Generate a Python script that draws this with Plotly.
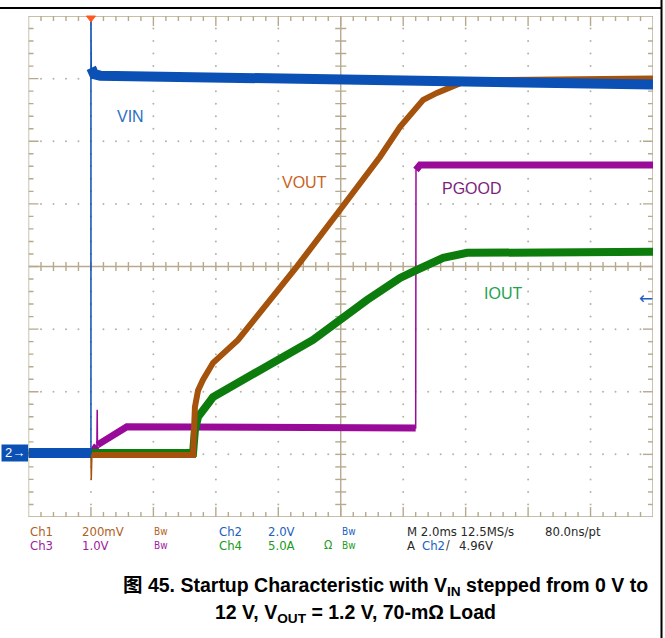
import plotly.graph_objects as go

W, H = 665, 638
# graticule box in pixels
GL, GR, GT, GB = 28.5, 653.0, 16.0, 517.0
NDX, NDY = 10, 8
T_PER_DIV = 2.0          # ms/div
T0 = -2.0                # ms at left edge of screen
GND_DIV = 1.022          # ground marker level (divisions above bottom)
PXX = (GR - GL) / NDX    # px per horizontal division
PXY = (GB - GT) / NDY    # px per vertical division

# ---------------- data ----------------
# Ch2 VIN, 2.0 V/div
t_vin = [-2.0, 0.0, 0.0, 0.01, 0.1, 0.3, 3.5, 8.3, 10.9, 13.1, 18.0]
vin   = [0.0, 0.0, 13.99, 12.3, 12.1, 12.05, 11.99, 11.93, 11.84, 11.80, 11.77]
# Ch1 VOUT, 200 mV/div
t_vout = [-2.0, 0.0, 0.01, 0.03, 3.27, 3.33, 3.43, 3.59, 3.91, 4.71, 5.73, 6.60,
          7.98, 9.26, 9.90, 10.64, 11.08, 11.40, 12.04, 18.0]
vout   = [-0.006, -0.006, -0.086, -0.006, -0.006, 0.147, 0.20, 0.234, 0.288, 0.361,
          0.489, 0.596, 0.777, 0.946, 1.042, 1.128, 1.150, 1.163, 1.19, 1.196]
# Ch3 PGOOD, 1.0 V/div
t_pg = [-2.0, 0.06, 0.13, 0.19, 0.20, 0.21, 1.15, 10.40, 10.41, 10.54, 18.0]
pg   = [0.0, 0.0, 0.08, 0.12, 0.69, 0.13, 0.42, 0.40, 4.52, 4.60, 4.60]
# Ch4 IOUT, 5.0 A/div
t_iout = [-2.0, 3.27, 3.33, 3.43, 3.91, 5.0, 6.05, 7.11, 8.84, 9.90, 10.44,
          11.28, 12.05, 18.0]
iout   = [0.0, 0.0, 1.84, 2.88, 4.47, 6.07, 7.43, 9.03, 12.22, 13.98, 14.62,
          15.58, 15.98, 16.06]

SCALE = {"VIN": 2.0, "VOUT": 0.2, "PGOOD": 1.0, "IOUT": 5.0}
C_VIN, C_VOUT, C_PG, C_IOUT = "#0b50b4", "#a4520c", "#990a99", "#0c7c0c"
GRAT = "#b5aa8e"
DOT = "#b4b4aa"


def thick_split(t, v, scale):
    xs, ys = [], []
    for i in range(len(t)):
        if i > 0:
            dx = abs(t[i] - t[i - 1]) / T_PER_DIV
            dy = abs(v[i] - v[i - 1]) / scale
            if dx < 0.02 and dy > 0.3:
                xs.append(None)
                ys.append(None)
        xs.append(t[i])
        ys.append(v[i])
    return xs, ys


fig = go.Figure()

# ---------------- graticule ----------------
gx, gy = [], []


def seg(x0, y0, x1, y1):
    gx.extend([x0, x1, None])
    gy.extend([y0, y1, None])


TL, TR = T0, T0 + NDX * T_PER_DIV
seg(TL, 0, TR, 0); seg(TL, NDY, TR, NDY); seg(TL, 0, TL, NDY); seg(TR, 0, TR, NDY)
TC = T0 + NDX / 2 * T_PER_DIV
seg(TL, NDY / 2, TR, NDY / 2); seg(TC, 0, TC, NDY)
ms_per_px = T_PER_DIV / PXX
div_per_px = 1.0 / PXY
for i in range(1, NDX * 5):
    x = T0 + i * 0.2 * T_PER_DIV
    ln = (10 if i % 5 == 0 else 5) * div_per_px
    seg(x, NDY, x, NDY - ln)
    seg(x, 0, x, ln)
    if i != NDX * 5 // 2:
        seg(x, NDY / 2 - 4.5 * div_per_px, x, NDY / 2 + 4.5 * div_per_px)
for j in range(1, NDY * 5):
    y = j * 0.2
    ln = (10 if j % 5 == 0 else 5) * ms_per_px
    seg(TL, y, TL + ln, y)
    seg(TR, y, TR - ln, y)
    if j != NDY * 5 // 2:
        seg(TC - 5.5 * ms_per_px, y, TC + 5.5 * ms_per_px, y)

dx_, dy_ = [], []
for i in range(1, NDX):
    if i == NDX // 2:
        continue
    x = T0 + i * T_PER_DIV
    for j in range(1, NDY * 5):
        dx_.append(x); dy_.append(j * 0.2)
for j in range(1, NDY):
    if j == NDY // 2:
        continue
    for i in range(1, NDX * 5):
        if i % 5 == 0:
            continue
        dx_.append(T0 + i * 0.2 * T_PER_DIV); dy_.append(j)

fig.add_trace(go.Scatter(x=dx_, y=dy_, mode="markers", xaxis="x", yaxis="y",
                         marker=dict(size=2, color=DOT), hoverinfo="skip", showlegend=False))
fig.add_trace(go.Scatter(x=gx, y=gy, mode="lines", xaxis="x", yaxis="y",
                         line=dict(color=GRAT, width=1.4), hoverinfo="skip", showlegend=False))

# ---------------- channel traces ----------------
chans = [
    ("PGOOD", t_pg, pg, C_PG, 7, "y2"),
    ("IOUT", t_iout, iout, C_IOUT, 8, "y3"),
    ("VOUT", t_vout, vout, C_VOUT, 6, "y4"),
    ("VIN", t_vin, vin, C_VIN, 10, "y5"),
]
for name, t, v, col, w, ya in chans:
    xs, ys = thick_split(t, v, SCALE[name])
    fig.add_trace(go.Scatter(x=t, y=v, mode="lines", xaxis="x", yaxis=ya,
                             line=dict(color=col, width=1.5), hoverinfo="skip", showlegend=False))
    fig.add_trace(go.Scatter(x=xs, y=ys, mode="lines", xaxis="x", yaxis=ya, connectgaps=False,
                             line=dict(color=col, width=w), hoverinfo="skip", showlegend=False))


def yr(scale):
    return [-GND_DIV * scale, (NDY - GND_DIV) * scale]


ydom = [1 - GB / H, 1 - GT / H]
hid = dict(visible=False, showgrid=False, zeroline=False, fixedrange=True)
fig.update_layout(
    width=W, height=H,
    margin=dict(l=0, r=0, t=0, b=0, autoexpand=False),
    paper_bgcolor="white", plot_bgcolor="white",
    xaxis=dict(range=[TL, TR], domain=[GL / W, GR / W], **hid),
    yaxis=dict(range=[0, NDY], domain=ydom, **hid),
    yaxis2=dict(range=yr(SCALE["PGOOD"]), overlaying="y", **hid),
    yaxis3=dict(range=yr(SCALE["IOUT"]), overlaying="y", **hid),
    yaxis4=dict(range=yr(SCALE["VOUT"]), overlaying="y", **hid),
    yaxis5=dict(range=yr(SCALE["VIN"]), overlaying="y", **hid),
    showlegend=False,
)


def px(x):
    return x / W


def py(y):
    return 1 - y / H


shapes = []
shapes.append(dict(type="line", xref="paper", yref="paper", x0=0, x1=px(662), y0=py(8), y1=py(8),
                   line=dict(color="black", width=2)))
shapes.append(dict(type="line", xref="paper", yref="paper", x0=px(661.5), x1=px(661.5), y0=0, y1=1,
                   line=dict(color="black", width=2)))
xt = GL + (0 - T0) / T_PER_DIV * PXX
shapes.append(dict(type="path", xref="paper", yref="paper",
                   path=f"M {px(xt-4.5)},{py(GT)} L {px(xt+4.5)},{py(GT)} L {px(xt)},{py(GT+6)} Z",
                   fillcolor="#ff5a1e", line=dict(color="#ff5a1e", width=1)))
yg = GB - GND_DIV * PXY
shapes.append(dict(type="rect", xref="paper", yref="paper", x0=px(1.5), x1=px(28), y0=py(yg - 8.5),
                   y1=py(yg + 8.5), fillcolor=C_VIN, line=dict(width=0)))
fig.update_layout(shapes=shapes)


def note(txt, x, y, fam, size, col, xa="center"):
    return dict(text=txt, x=px(x), y=py(y), xanchor=xa, yanchor="middle", showarrow=False,
                xref="paper", yref="paper", font=dict(family=fam, size=size, color=col))


ann = []
ann.append(note("2→", 15, yg, "Liberation Sans", 13, "white"))
ann.append(note("←", 646, 298, "DejaVu Sans", 17, "#1f5fc0"))
LBL = "Liberation Sans, Arial, sans-serif"
for txt, x, y, col in [("VIN", 130, 116, "#2a70c0"), ("VOUT", 304, 182, "#c8641e"),
                       ("PGOOD", 472, 188, "#7d1f7d"), ("IOUT", 503, 293, "#1fa34f")]:
    ann.append(note(txt, x, y, LBL, 16, col))

STAT = "Liberation Sans Narrow, DejaVu Sans Condensed, Liberation Sans, sans-serif"
BR, BL, PU, GR_ = "#b0601e", "#2060c0", "#a020a0", "#209a20"
DK = "#282828"
row1 = [("Ch1", 28, BR, 13), ("200mV", 80, BR, 13), ("Bw", 152, BR, 10),
        ("Ch2", 217, BL, 13), ("2.0V", 266, BL, 13), ("Bw", 340, BL, 10),
        ("M 2.0ms 12.5MS/s", 405, DK, 13), ("80.0ns/pt", 543, DK, 13)]
row2 = [("Ch3", 28, PU, 13), ("1.0V", 80, PU, 13), ("Bw", 152, PU, 10),
        ("Ch4", 217, GR_, 13), ("5.0A", 266, GR_, 13), ("Ω", 322, GR_, 12),
        ("Bw", 340, GR_, 10), ("A", 405, DK, 13), ("Ch2", 420, BL, 13),
        ("/", 444, DK, 12), ("4.96V", 457, DK, 13)]
for row, yy in [(row1, 531), (row2, 545)]:
    for txt, x, col, sz in row:
        ann.append(note(txt, x, yy, STAT, sz, col, xa="left"))

CAP = "Liberation Sans, Arial, Noto Sans CJK SC, sans-serif"
ann.append(note("<b>图 45. Startup Characteristic with V<sub>IN</sub> stepped from 0 V to</b>",
                385, 586, CAP, 19.5, "black"))
ann.append(note("<b>12 V, V<sub>OUT</sub> = 1.2 V, 70-mΩ Load</b>",
                355, 613, CAP, 19.5, "black"))
fig.update_layout(annotations=ann)

fig.write_html("out.html", config={"displayModeBar": False},
               post_script="document.body.style.margin='0px';")
